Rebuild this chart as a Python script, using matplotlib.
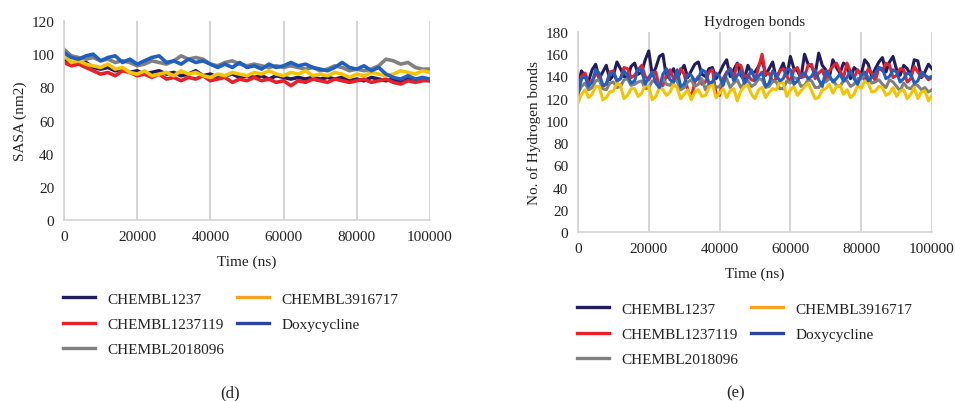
import matplotlib
matplotlib.use("Agg")
import matplotlib.pyplot as plt
from matplotlib.lines import Line2D

plt.rcParams['font.family'] = ['Liberation Serif', 'DejaVu Serif']

# ---------------- data ----------------
series_names = ["CHEMBL1237", "CHEMBL1237119", "CHEMBL2018096", "CHEMBL3916717", "Doxycycline"]
line_colors = ["#211C5E", "#E8202A", "#808080", "#F5C400", "#1F5FC0"]
legend_colors = ["#211C5E", "#E8202A", "#808080", "#F5A21E", "#2A45A0"]

time_sasa = list(range(0, 100001, 2000))
time_hb = list(range(0, 100001, 1000))

sasa_chembl1237 = [97, 95, 94, 95, 92, 91, 92, 90, 91, 89, 90, 88, 89, 90, 88, 89, 87, 88, 90, 87,
                   88, 86, 87, 88, 86, 87, 86, 87, 85, 87, 86, 85, 86, 85, 86, 85, 86, 85, 86, 84,
                   85, 84, 86, 85, 84, 85, 83, 85, 84, 85, 84]
sasa_chembl1237119 = [95, 93, 94, 92, 90, 88, 89, 87, 90, 89, 87, 88, 86, 88, 85, 86, 84, 86, 85, 87,
                      84, 85, 86, 83, 85, 84, 86, 84, 85, 83, 84, 81, 84, 83, 85, 84, 83, 85, 84, 83,
                      84, 85, 83, 84, 85, 83, 82, 84, 83, 84, 84]
sasa_chembl2018096 = [103, 99, 98, 97, 98, 96, 97, 95, 96, 95, 93, 94, 96, 95, 94, 96, 99, 97, 98, 97,
                      94, 93, 95, 96, 94, 93, 94, 93, 92, 93, 92, 93, 92, 91, 92, 90, 91, 93, 92, 90,
                      91, 90, 91, 93, 97, 96, 94, 95, 92, 91, 91]
sasa_chembl3916717 = [99, 95, 96, 94, 93, 92, 94, 91, 92, 89, 88, 90, 87, 88, 89, 87, 90, 88, 89, 87,
                      86, 88, 87, 89, 88, 87, 89, 88, 90, 88, 87, 89, 88, 90, 87, 88, 87, 89, 88, 86,
                      88, 87, 89, 88, 87, 88, 90, 89, 88, 90, 89]
sasa_doxycycline = [101, 98, 97, 99, 100, 96, 98, 99, 95, 97, 94, 96, 98, 99, 95, 96, 94, 97, 95, 96,
                    94, 92, 94, 92, 95, 92, 93, 91, 94, 92, 93, 95, 93, 94, 92, 91, 90, 92, 95, 92,
                    91, 93, 90, 92, 88, 86, 85, 87, 85, 86, 85]

hb_chembl1237 = [132, 145, 140, 136, 146, 151, 138, 144, 150, 137,
                 141, 153, 147, 140, 139, 149, 152, 142, 144, 155,
                 163, 141, 148, 158, 160, 139, 142, 147, 137, 145,
                 150, 139, 145, 151, 153, 142, 140, 147, 148, 138,
                 143, 150, 155, 140, 146, 152, 141, 137, 150, 143,
                 144, 149, 156, 141, 147, 153, 138, 145, 152, 140,
                 158, 147, 145, 139, 160, 151, 149, 142, 161, 150,
                 146, 139, 155, 148, 143, 152, 150, 138, 148, 145,
                 142, 155, 151, 140, 147, 153, 157, 144, 153, 158,
                 146, 141, 150, 147, 141, 155, 154, 139, 144, 151,
                 147]
hb_chembl1237119 = [128, 140, 143, 134, 136, 142, 140, 131, 133, 144,
                    145, 136, 138, 148, 147, 139, 141, 146, 150, 140,
                    137, 143, 144, 130, 132, 141, 146, 138, 139, 147,
                    142, 128, 121, 135, 140, 133, 135, 144, 146, 124,
                    123, 138, 144, 147, 139, 151, 150, 140, 141, 137,
                    136, 148, 160, 142, 143, 135, 138, 145, 147, 140,
                    135, 146, 148, 139, 140, 150, 151, 138, 143, 146,
                    137, 145, 149, 152, 145, 139, 152, 144, 139, 146,
                    141, 137, 147, 143, 136, 148, 145, 152, 150, 139,
                    141, 147, 146, 135, 138, 149, 144, 140, 141, 137,
                    139]
hb_chembl2018096 = [125, 131, 134, 128, 130, 136, 137, 129, 128, 134,
                    135, 130, 131, 137, 138, 132, 133, 135, 136, 129,
                    130, 136, 135, 131, 138, 133, 132, 137, 136, 128,
                    130, 135, 137, 131, 133, 138, 128, 133, 135, 130,
                    131, 136, 138, 130, 134, 137, 130, 134, 136, 131,
                    133, 138, 137, 130, 131, 136, 135, 129, 129, 136,
                    134, 139, 138, 131, 132, 137, 136, 130, 130, 135,
                    135, 138, 137, 132, 131, 136, 136, 131, 133, 138,
                    138, 141, 140, 134, 135, 137, 133, 130, 137, 135,
                    131, 127, 134, 130, 129, 133, 132, 128, 130, 126,
                    128]
hb_chembl3916717 = [116, 124, 128, 121, 124, 131, 131, 119, 121, 126,
                    127, 134, 132, 120, 123, 129, 129, 122, 125, 132,
                    131, 119, 122, 130, 128, 123, 126, 133, 130, 120,
                    124, 128, 119, 126, 128, 122, 123, 130, 133, 121,
                    125, 129, 121, 127, 129, 118, 127, 131, 132, 124,
                    120, 128, 130, 121, 126, 129, 128, 135, 134, 122,
                    128, 131, 123, 127, 131, 134, 127, 120, 121, 128,
                    129, 133, 125, 131, 132, 124, 128, 121, 124, 132,
                    129, 136, 134, 126, 127, 131, 130, 123, 125, 130,
                    122, 127, 128, 120, 124, 130, 120, 126, 127, 118,
                    123]
hb_doxycycline = [124, 138, 140, 131, 135, 146, 143, 132, 133, 142,
                  144, 136, 138, 145, 141, 134, 136, 147, 145, 133,
                  139, 144, 134, 130, 142, 147, 137, 135, 146, 131,
                  133, 142, 141, 136, 138, 146, 144, 134, 135, 143,
                  140, 132, 143, 147, 136, 141, 145, 134, 139, 146,
                  137, 140, 144, 131, 134, 145, 141, 136, 138, 147,
                  146, 133, 136, 142, 143, 138, 140, 146, 137, 131,
                  145, 141, 135, 138, 142, 136, 139, 145, 138, 133,
                  141, 144, 136, 139, 143, 148, 147, 138, 140, 146,
                  144, 135, 138, 143, 142, 134, 136, 144, 141, 139,
                  140]

x_ticks = [0, 20000, 40000, 60000, 80000, 100000]
sasa_yticks = [0, 20, 40, 60, 80, 100, 120]
hb_yticks = [0, 20, 40, 60, 80, 100, 120, 140, 160, 180]

sasa_series = [sasa_chembl1237, sasa_chembl1237119, sasa_chembl2018096, sasa_chembl3916717, sasa_doxycycline]
hb_series = [hb_chembl1237, hb_chembl1237119, hb_chembl2018096, hb_chembl3916717, hb_doxycycline]

# ---------------- figure ----------------
fig = plt.figure(figsize=(9.55, 4.02), dpi=100)
ax1 = fig.add_axes([0.0670, 0.4502, 0.3832, 0.4950])
ax2 = fig.add_axes([0.6052, 0.4204, 0.3707, 0.4975])

FS = 11
TXT = "#222222"
GRID = "#d4d4d4"


def style(ax, yticks):
    ax.set_xlim(0, 100000)
    ax.set_ylim(yticks[0], yticks[-1])
    ax.set_xticks(x_ticks)
    ax.set_xticklabels([str(t) for t in x_ticks])
    ax.set_yticks(yticks)
    ax.tick_params(axis='x', length=0, labelsize=FS, colors=TXT, pad=7.5)
    ax.tick_params(axis='y', length=0, labelsize=FS, colors=TXT, pad=7)
    ax.grid(axis='x', color=GRID, linewidth=1.4)
    ax.set_axisbelow(True)
    for s in ['top', 'right']:
        ax.spines[s].set_visible(False)
    for s in ['left', 'bottom']:
        ax.spines[s].set_color(GRID)
        ax.spines[s].set_linewidth(1.2)


for data, col in zip(sasa_series, line_colors):
    ax1.plot(time_sasa, data, color=col, linewidth=2.6)
for data, col in zip(hb_series, line_colors):
    ax2.plot(time_hb, data, color=col, linewidth=2.2)

style(ax1, sasa_yticks)
style(ax2, hb_yticks)

ax1.set_xlabel("Time (ns)", fontsize=FS, color=TXT, labelpad=8)
ax1.set_ylabel("SASA (nm2)", fontsize=FS, color=TXT, labelpad=3)
ax2.set_xlabel("Time (ns)", fontsize=FS, color=TXT, labelpad=8)
ax2.set_ylabel("No. of Hydrogen bonds", fontsize=FS, color=TXT, labelpad=3)
ax2.set_title("Hydrogen bonds", fontsize=FS, color=TXT, pad=5)

handles = [Line2D([], [], color=c, linewidth=2.4) for c in legend_colors]
for anchor in [(0.066, 0.271), (0.604, 0.246)]:
    fig.legend(handles, series_names, loc='upper left', bbox_to_anchor=anchor, ncol=2,
               frameon=False, fontsize=FS, handlelength=2.1, handletextpad=0.8,
               columnspacing=0.85, labelspacing=0.75, borderpad=0, borderaxespad=0,
               labelcolor=TXT)

fig.text(230 / 955, 1 - 393 / 402, "(d)", ha='center', va='center', fontsize=12, color=TXT)
fig.text(736 / 955, 1 - 393 / 402, "(e)", ha='center', va='center', fontsize=12, color=TXT)

fig.savefig("out.png", dpi=100)
